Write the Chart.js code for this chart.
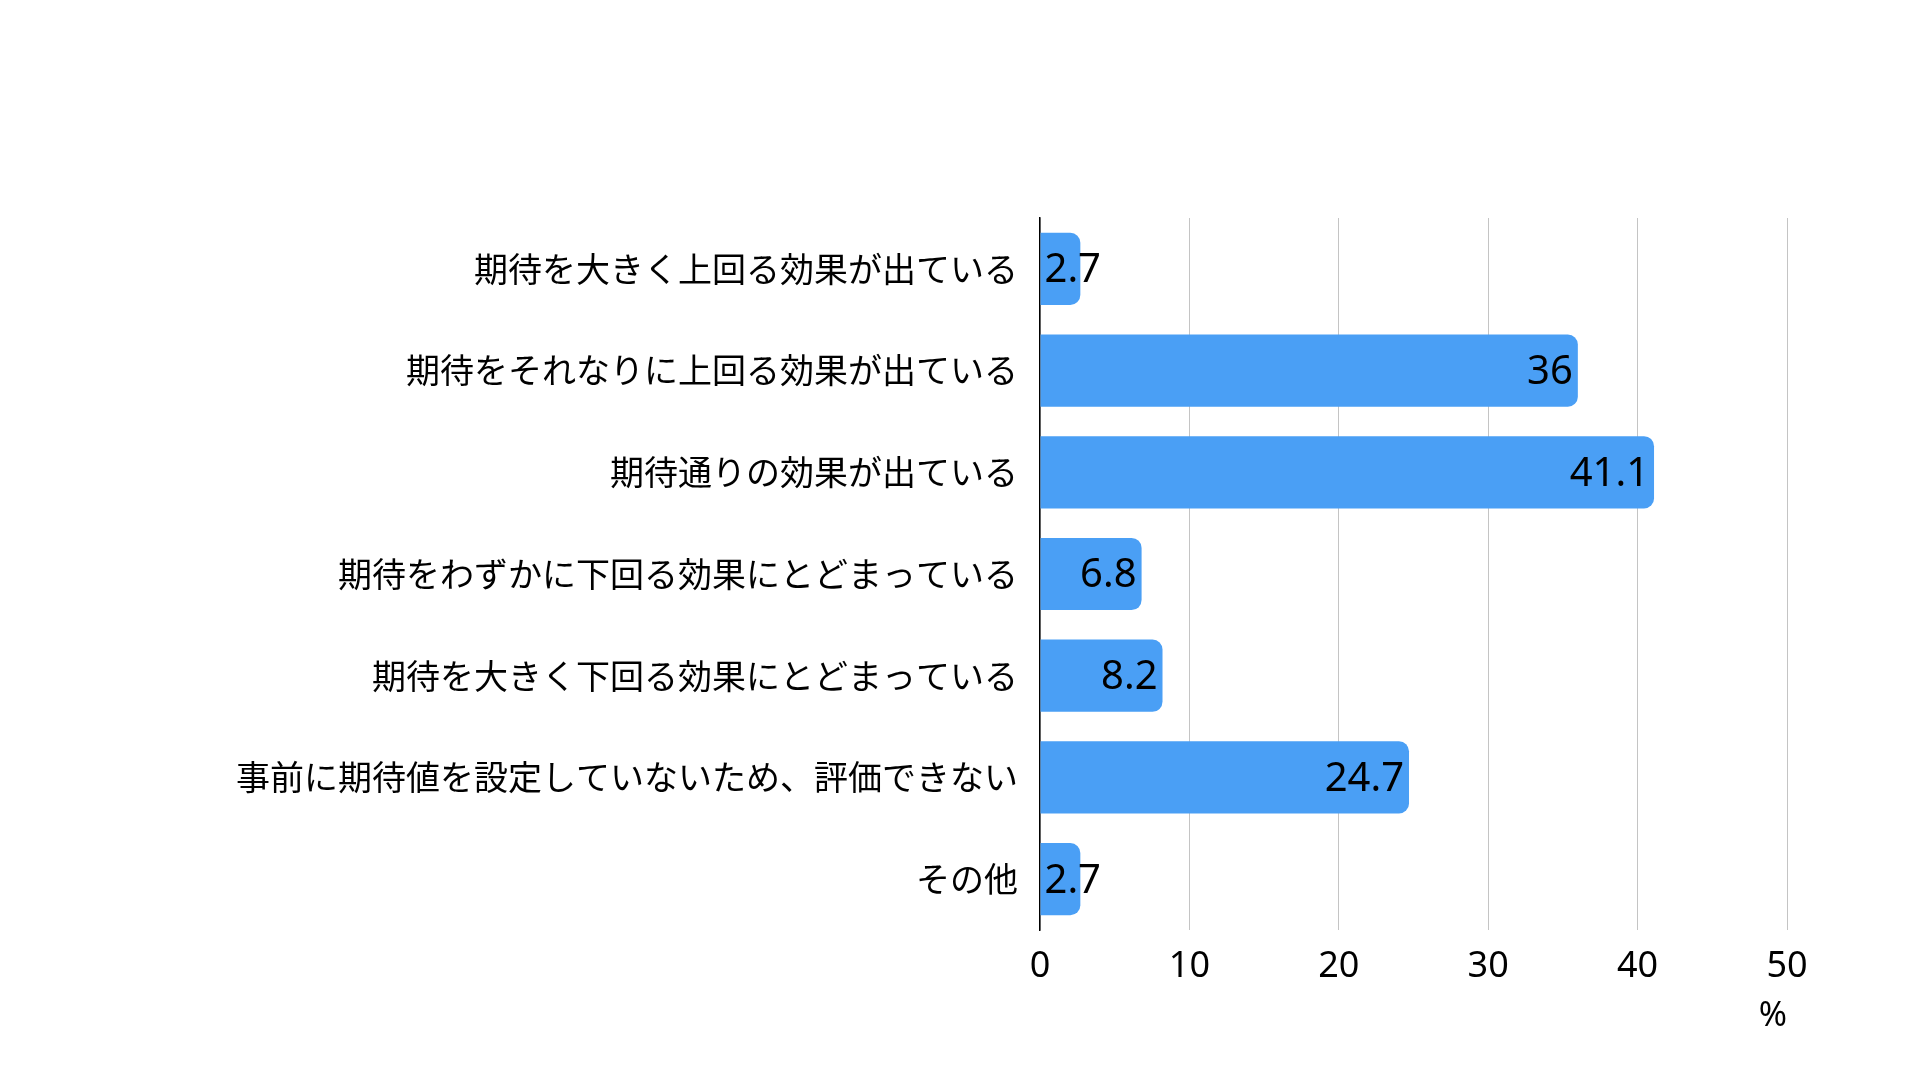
<!DOCTYPE html>
<html lang="ja">
<head>
    <meta charset="UTF-8">
    <title>期待に対する効果</title>
    <script src="https://cdn.jsdelivr.net/npm/chart.js"></script>
    <style>
        html, body { margin: 0; padding: 0; background: #ffffff; }
        canvas { display: block; }
    </style>
</head>
<body>
    <canvas id="effectChart" width="1920" height="1080"></canvas>

    <script>
        // --- Daten ---
        const categories = [
            '期待を大きく上回る効果が出ている',
            '期待をそれなりに上回る効果が出ている',
            '期待通りの効果が出ている',
            '期待をわずかに下回る効果にとどまっている',
            '期待を大きく下回る効果にとどまっている',
            '事前に期待値を設定していないため、評価できない',
            'その他'
        ];
        const percentValues = [2.7, 36, 41.1, 6.8, 8.2, 24.7, 2.7];
        const xTicks = [0, 10, 20, 30, 40, 50];
        const unitLabel = '%';

        const jpFont = "'Noto Sans CJK JP', 'Noto Sans', sans-serif";
        const numFont = "'Noto Sans', 'Noto Sans CJK JP', sans-serif";

        // Werte ans Balkenende schreiben (rechtsbündig innen, sonst ab Balkenanfang)
        const valueLabels = {
            id: 'valueLabels',
            afterDatasetsDraw(chart) {
                const ctx = chart.ctx;
                const meta = chart.getDatasetMeta(0);
                ctx.save();
                ctx.font = '40px ' + numFont;
                ctx.fillStyle = '#000000';
                ctx.textBaseline = 'middle';
                ctx.textAlign = 'left';
                meta.data.forEach((bar, i) => {
                    const text = String(percentValues[i]);
                    const w = ctx.measureText(text).width;
                    let left = bar.x - 5 - w;
                    if (left < bar.base + 4) left = bar.base + 4;
                    ctx.fillText(text, left, bar.y + 2);
                });
                ctx.restore();
            }
        };

        const ctx = document.getElementById('effectChart').getContext('2d');
        new Chart(ctx, {
            type: 'bar',
            data: {
                labels: categories,
                datasets: [{
                    data: percentValues,
                    backgroundColor: 'rgb(74, 159, 245)',
                    borderWidth: 0,
                    borderRadius: 10,
                    borderSkipped: 'start',
                    barPercentage: 0.71,
                    categoryPercentage: 1.0
                }]
            },
            options: {
                indexAxis: 'y',
                responsive: false,
                devicePixelRatio: 1,
                animation: false,
                layout: {
                    padding: { top: 218, right: 133, bottom: 0, left: 0 }
                },
                scales: {
                    x: {
                        min: 0,
                        max: 50,
                        afterBuildTicks: (scale) => {
                            scale.ticks = xTicks.map(v => ({ value: v }));
                        },
                        afterFit: (scale) => { scale.height = 150; },
                        grid: {
                            color: '#c4c4c4',
                            lineWidth: 1,
                            drawTicks: false
                        },
                        border: { display: false },
                        ticks: {
                            color: '#000000',
                            font: { family: numFont, size: 36 },
                            padding: 15
                        },
                        title: {
                            display: true,
                            text: unitLabel,
                            align: 'end',
                            color: '#000000',
                            font: { family: numFont, size: 34 },
                            padding: { top: 0, bottom: 43 }
                        }
                    },
                    y: {
                        afterFit: (scale) => { scale.width = 1040; },
                        grid: { display: false, drawTicks: false },
                        border: { display: true, color: '#000000', width: 1.5 },
                        ticks: {
                            color: '#000000',
                            font: { family: jpFont, size: 34 },
                            padding: 22
                        }
                    }
                },
                plugins: {
                    legend: { display: false },
                    tooltip: { enabled: false }
                }
            },
            plugins: [valueLabels]
        });
    </script>
</body>
</html>
